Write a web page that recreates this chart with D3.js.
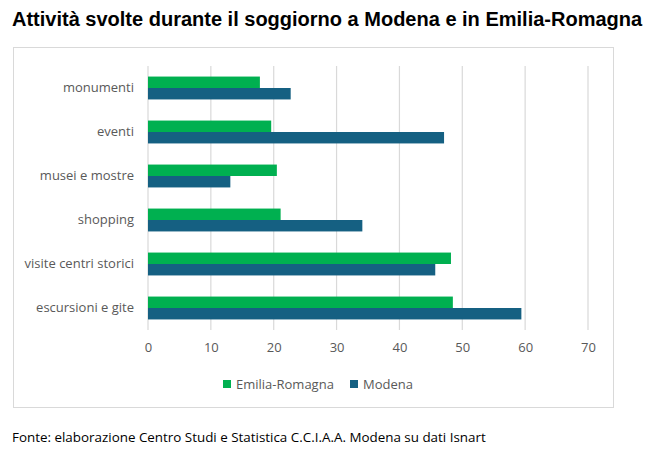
<!DOCTYPE html>
<html lang="it">
<head>
<meta charset="UTF-8">
<title>Attività svolte</title>
<script src="https://d3js.org/d3.v7.min.js"></script>
<style>
    body { margin: 0; background: #fff; }
    .axis text { fill: #595959; font-family: "Open Sans", sans-serif; font-size: 13px; }
    .legend text { fill: #595959; font-family: "Open Sans", sans-serif; font-size: 13px; }
</style>
</head>
<body>
<div id="chart"></div>
<script>
    const categories = ["monumenti", "eventi", "musei e mostre", "shopping", "visite centri storici", "escursioni e gite"];
    const seriesNames = ["Emilia-Romagna", "Modena"];
    const emiliaRomagna = [17.8, 19.6, 20.5, 21.1, 48.2, 48.5];
    const modena = [22.7, 47.1, 13.1, 34.1, 45.7, 59.4];
    const ticks = [0, 10, 20, 30, 40, 50, 60, 70];
    const colors = ["#00b050", "#156082"];

    const width = 672, height = 460;
    const svg = d3.select("#chart").append("svg")
        .attr("width", width).attr("height", height);

    // title
    svg.append("text")
        .attr("x", 12).attr("y", 26)
        .style("font-family", "'Liberation Sans', Arial, sans-serif")
        .style("font-weight", "bold")
        .style("font-size", "20px")
        .text("Attività svolte durante il soggiorno a Modena e in Emilia-Romagna");

    // chart frame
    svg.append("rect")
        .attr("x", 13.5).attr("y", 47.5)
        .attr("width", 600).attr("height", 360)
        .attr("fill", "#fff").attr("stroke", "#d9d9d9");

    const x = d3.scaleLinear().domain([0, 70]).range([148, 588]);
    const y = d3.scaleBand().domain(categories).range([66, 330]).paddingInner(0.48).paddingOuter(0.24);
    const ySub = d3.scaleBand().domain(seriesNames).range([0, y.bandwidth()]);

    // gridlines
    svg.append("g").selectAll("line")
        .data(ticks)
        .join("line")
        .attr("x1", d => x(d)).attr("x2", d => x(d))
        .attr("y1", 66).attr("y2", 330)
        .attr("stroke", "#d9d9d9").attr("stroke-width", 1.2);

    const rows = categories.map((c, i) => ({ cat: c, vals: [emiliaRomagna[i], modena[i]] }));

    svg.append("g").selectAll("g")
        .data(rows)
        .join("g")
        .attr("transform", d => `translate(0,${y(d.cat)})`)
        .selectAll("rect")
        .data(d => d.vals.map((v, j) => ({ name: seriesNames[j], v: v, c: colors[j] })))
        .join("rect")
        .attr("x", x(0))
        .attr("y", d => ySub(d.name))
        .attr("width", d => x(d.v) - x(0))
        .attr("height", ySub.bandwidth())
        .attr("fill", d => d.c);

    // x axis
    const xAxis = svg.append("g").attr("class", "axis")
        .attr("transform", "translate(0,330)")
        .call(d3.axisBottom(x).tickValues(ticks).tickSize(0).tickPadding(13));
    xAxis.select(".domain").remove();

    // y axis
    const yAxis = svg.append("g").attr("class", "axis")
        .attr("transform", `translate(${x(0)},0)`)
        .call(d3.axisLeft(y).tickSize(0).tickPadding(14));
    yAxis.select(".domain").remove();

    // legend
    const legend = svg.append("g").attr("class", "legend")
        .selectAll("g")
        .data(seriesNames)
        .join("g")
        .attr("transform", (d, i) => `translate(${[223, 350][i]},384)`);
    legend.append("rect")
        .attr("x", 0).attr("y", -4)
        .attr("width", 8).attr("height", 8)
        .attr("fill", (d, i) => colors[i]);
    legend.append("text")
        .attr("x", 13).attr("y", 0).attr("dy", "0.35em")
        .text(d => d);

    // source
    svg.append("text")
        .attr("x", 12).attr("y", 442)
        .style("font-family", "'Open Sans', sans-serif")
        .style("font-size", "13.4px")
        .attr("fill", "#000")
        .text("Fonte: elaborazione Centro Studi e Statistica C.C.I.A.A. Modena su dati Isnart");
</script>
</body>
</html>
